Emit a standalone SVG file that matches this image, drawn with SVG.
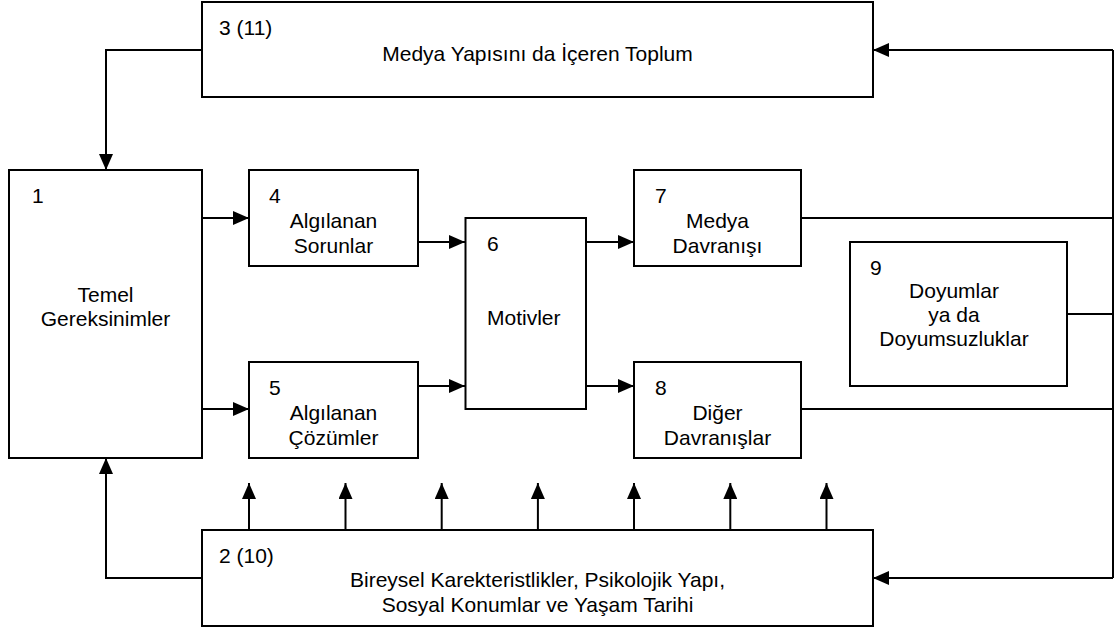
<svg xmlns="http://www.w3.org/2000/svg" width="1115" height="629" viewBox="0 0 1115 629">
<style>
.box{fill:#fff;stroke:#000;stroke-width:2}
.ln{fill:none;stroke:#000;stroke-width:2}
text{font-family:"Liberation Sans",Arial,sans-serif;font-size:21px;fill:#000}
.c{text-anchor:middle}
</style>
<defs>
<marker id="ah" markerUnits="userSpaceOnUse" markerWidth="16" markerHeight="14" refX="16" refY="7" orient="auto">
<path d="M0,0 L16,7 L0,14 Z" fill="#000"/>
</marker>
</defs>
<rect width="1115" height="629" fill="#fff"/>
<g id="connectors">
<path class="ln" d="M202,50 H106 V170" marker-end="url(#ah)"/>
<path class="ln" d="M202,578 H106 V458" marker-end="url(#ah)"/>
<path class="ln" d="M202,218 H249" marker-end="url(#ah)"/>
<path class="ln" d="M202,409 H249" marker-end="url(#ah)"/>
<path class="ln" d="M418,242 H465" marker-end="url(#ah)"/>
<path class="ln" d="M418,386 H465" marker-end="url(#ah)"/>
<path class="ln" d="M586,242 H634" marker-end="url(#ah)"/>
<path class="ln" d="M586,386 H634" marker-end="url(#ah)"/>
<path class="ln" d="M801,218 H1113"/>
<path class="ln" d="M801,409 H1113"/>
<path class="ln" d="M1067,314 H1113"/>
<path class="ln" d="M1113,50 V578"/>
<path class="ln" d="M1113,50 H873" marker-end="url(#ah)"/>
<path class="ln" d="M1113,578 H873" marker-end="url(#ah)"/>
<path class="ln" d="M249,530 V483" marker-end="url(#ah)"/>
<path class="ln" d="M345.5,530 V483" marker-end="url(#ah)"/>
<path class="ln" d="M441.7,530 V483" marker-end="url(#ah)"/>
<path class="ln" d="M537.9,530 V483" marker-end="url(#ah)"/>
<path class="ln" d="M634,530 V483" marker-end="url(#ah)"/>
<path class="ln" d="M730.3,530 V483" marker-end="url(#ah)"/>
<path class="ln" d="M826.5,530 V483" marker-end="url(#ah)"/>
</g>
<g id="n3">
<rect class="box" x="202" y="2" width="671" height="95"/>
<text x="219" y="35">3 (11)</text>
<text class="c" x="537.5" y="61">Medya Yapısını da İçeren Toplum</text>
</g>
<g id="n1">
<rect class="box" x="9" y="170" width="193" height="288"/>
<text x="32" y="203">1</text>
<text class="c" x="105.5" y="302">Temel</text>
<text class="c" x="105.5" y="326">Gereksinimler</text>
</g>
<g id="n4">
<rect class="box" x="249" y="170" width="169" height="96"/>
<text x="269" y="203">4</text>
<text class="c" x="333.5" y="228">Algılanan</text>
<text class="c" x="333.5" y="253">Sorunlar</text>
</g>
<g id="n5">
<rect class="box" x="249" y="362" width="169" height="96"/>
<text x="269" y="395">5</text>
<text class="c" x="333.5" y="420">Algılanan</text>
<text class="c" x="333.5" y="445">Çözümler</text>
</g>
<g id="n6">
<rect class="box" x="465.5" y="218" width="120.5" height="191"/>
<text x="487" y="251">6</text>
<text x="487" y="325">Motivler</text>
</g>
<g id="n7">
<rect class="box" x="634" y="170" width="167" height="96"/>
<text x="655" y="203">7</text>
<text class="c" x="717.5" y="228">Medya</text>
<text class="c" x="717.5" y="253">Davranışı</text>
</g>
<g id="n8">
<rect class="box" x="634" y="362" width="167" height="96"/>
<text x="655" y="395">8</text>
<text class="c" x="717.5" y="420">Diğer</text>
<text class="c" x="717.5" y="445">Davranışlar</text>
</g>
<g id="n9">
<rect class="box" x="850" y="242" width="217" height="144"/>
<text x="870" y="275">9</text>
<text class="c" x="954" y="298">Doyumlar</text>
<text class="c" x="954" y="322">ya da</text>
<text class="c" x="954" y="346">Doyumsuzluklar</text>
</g>
<g id="n2">
<rect class="box" x="202" y="530" width="671" height="96"/>
<text x="219" y="563">2 (10)</text>
<text class="c" x="537.5" y="587">Bireysel Karekteristlikler, Psikolojik Yapı,</text>
<text class="c" x="537.5" y="612">Sosyal Konumlar ve Yaşam Tarihi</text>
</g>
</svg>
